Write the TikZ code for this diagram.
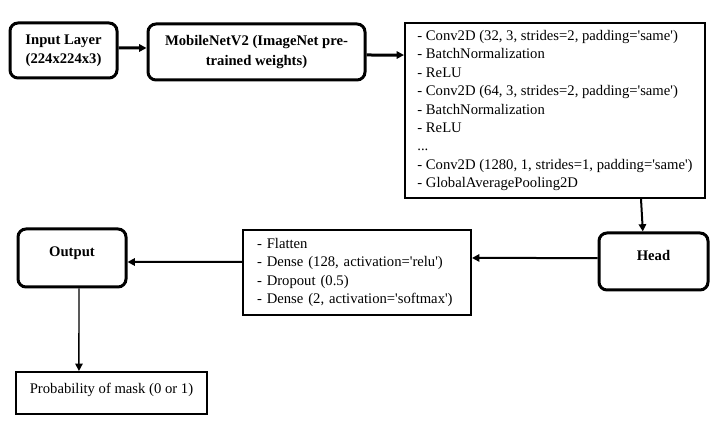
\documentclass[tikz,border=0pt]{standalone}
\usepackage{fontspec}
\setmainfont{Liberation Serif}
\usetikzlibrary{arrows.meta}
\newcommand{\tq}{\textquotesingle}

\begin{document}
\begin{tikzpicture}[x=0.75pt,y=0.75pt,yscale=-1,
    stage/.style={draw, line width=2.25pt, rounded corners=6pt, align=center, font=\fontsize{11}{14.5}\selectfont\bfseries},
    layers/.style={draw, line width=1.5pt, align=left, font=\fontsize{11}{13.8}\selectfont},
    arr/.style={-{Triangle[length=5.5pt,width=5.5pt]}, line width=1.5pt}]

    \useasboundingbox (0,0) rectangle (720,427);

    \draw (63.5,50.5) node [stage, minimum width=80.25pt, minimum height=41.25pt] (inp) {Input Layer\\(224x224x3)};
    \draw (256.5,52) node [stage, minimum width=162.75pt, minimum height=42pt] (mob) {MobileNetV2 (ImageNet pre-\\trained weights)};
    \draw (555,110.5) node [layers, minimum width=225pt, minimum height=131.25pt] (conv) {- Conv2D (32, 3, strides=2, padding=\tq same\tq)\\- BatchNormalization\\- ReLU\\- Conv2D (64, 3, strides=2, padding=\tq same\tq)\\- BatchNormalization\\- ReLU\\...\\- Conv2D (1280, 1, strides=1, padding=\tq same\tq)\\- GlobalAveragePooling2D};
    \draw (653.5,261.5) node [stage, minimum width=81.75pt, minimum height=42.75pt, text depth=9pt] (head) {Head};
    \draw (357,272.5) node [layers, text width=150pt, inner xsep=10.5pt, minimum height=63.75pt] (mid) {- Flatten\\- Dense (128, activation=\tq relu\tq)\\- Dropout (0.5)\\- Dense (2, activation=\tq softmax\tq)};
    \draw (72,258) node [stage, minimum width=81pt, minimum height=43.5pt, text depth=9pt] (out) {Output};
    \draw (111.5,393) node [layers, align=center, minimum width=143.25pt, minimum height=31.5pt, text depth=7.5pt] (prob) {Probability of mask (0 or 1)};

    \draw [arr, line width=2.25pt] ([yshift=-1.9pt]inp.east) -- ([yshift=-3pt]mob.west);
    \draw [arr, line width=2.25pt] ([yshift=2.25pt]mob.east) -- ([yshift=-41.6pt]conv.west);
    \draw [arr] ([xshift=64.5pt]conv.south) -- ([xshift=-8pt]head.north);
    \draw [arr] ([yshift=-2.6pt]head.west) -- ([yshift=-10.9pt]mid.east);
    \draw [arr] ([yshift=-7.9pt]mid.west) -- ([yshift=3pt]out.east);
    \draw [arr, line width=1.1pt] ([xshift=5.25pt]out.south) -- ([xshift=-24.4pt]prob.north);

\end{tikzpicture}
\end{document}
